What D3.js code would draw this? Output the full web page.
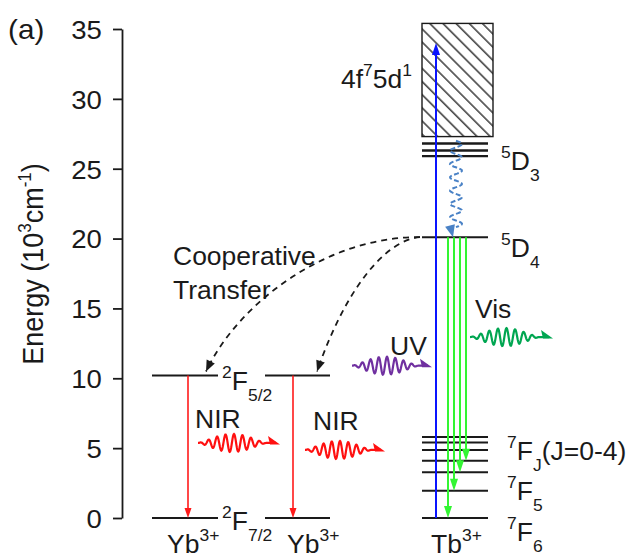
<!DOCTYPE html>
<html>
<head>
<meta charset="utf-8">
<script src="https://cdn.jsdelivr.net/npm/d3@7"></script>
<style>
  body { margin: 0; background: #fff; }
  text { font-family: "Liberation Sans", Arial, sans-serif; fill: #1a1a1a; }
</style>
</head>
<body>
<svg id="chart" width="631" height="558"></svg>
<script>
// energies are in 10^3 cm^-1
const yTicks = [0, 5, 10, 15, 20, 25, 30, 35];
const yMinor = [2.5, 7.5, 12.5, 17.5, 22.5, 27.5, 32.5];
const ybLevels = [10.2, 0];                 // 2F5/2, 2F7/2
const tbBand = [27.3, 35.4];                // 4f7 5d1
const tb5D3 = [26.8, 26.3, 25.9];
const tb5D4 = 20.1;
const tb7F = [5.8, 5.4, 4.86, 4.1, 3.27, 1.95, 0];
const uvTop = 34.0;                         // blue pump arrow
const visEnds = [0, 1.95, 3.27, 4.1];       // 5D4 -> 7F6..7F3
const relaxFrom = 27.0;                     // 5D3 -> 5D4 non-radiative
const photonNames = ["UV", "Vis", "NIR", "NIR"];
const photonE = [10.9, 12.95, 5.37, 4.87];

const width = 631, height = 558;
const svg = d3.select("#chart");
const y = d3.scaleLinear().domain([0, 35]).range([518, 29]);
const axisX = 122;
const stretch = 1.06;

// columns (pixel layout)
const col = {
  yb1: [152, 218], yb2: [265, 330], tb: [422, 488]
};
const photonX = [[352, 432], [470, 553], [198, 280], [305, 385]];
const photonColor = ["#7030a0", "#00a651", "#ff1010", "#ff1010"];

// text with sup/sub parts: [string, kind]
function label(x, yy, parts, size, anchor) {
  const t = svg.append("text")
      .attr("transform", `translate(${x},${yy}) scale(${stretch},1)`)
      .attr("font-size", size)
      .attr("text-anchor", anchor || "start");
  let shift = 0;
  parts.forEach(([s, k]) => {
    const target = k === "sup" ? -0.5 * size : k === "sub" ? 0.42 * size : 0;
    t.append("tspan")
      .attr("dy", target - shift)
      .attr("font-size", k === "n" ? size : size * 0.66)
      .text(s);
    shift = target;
  });
  return t;
}

function tri(tip, dir, len, half, color) {
  // dir: unit vector pointing toward tip
  const [tx, ty] = tip, [dx, dy] = dir;
  const bx = tx - dx * len, by = ty - dy * len;
  const px = -dy * half, py = dx * half;
  svg.append("path")
    .attr("d", `M${tx},${ty}L${bx + px},${by + py}L${bx - px},${by - py}Z`)
    .attr("fill", color);
}

// ---------- axis ----------
const gAxis = svg.append("g").attr("transform", `translate(${axisX},0)`);
gAxis.call(d3.axisLeft(y).tickValues(yMinor).tickSize(5).tickSizeOuter(0).tickFormat(""));
gAxis.call(d3.axisLeft(y).tickValues(yTicks).tickSize(9).tickSizeOuter(0).tickPadding(11));
gAxis.selectAll("path, line").attr("stroke", "#1a1a1a").attr("stroke-width", 1.8);
gAxis.selectAll("text")
  .attr("font-size", 26)
  .attr("font-family", "Liberation Sans, Arial, sans-serif")
  .attr("fill", "#1a1a1a")
  .attr("x", -19)
  .attr("dy", "0.36em")
  .attr("transform", `scale(${stretch},1)`);

svg.append("text")
  .attr("transform", `translate(43,264) scale(${stretch},1) rotate(-90)`)
  .attr("font-size", 27).attr("text-anchor", "middle")
  .call(t => {
    t.append("tspan").text("Energy (10");
    t.append("tspan").attr("dy", -11).attr("font-size", 17).text("3");
    t.append("tspan").attr("dy", 11).text("cm");
    t.append("tspan").attr("dy", -11).attr("font-size", 17).text("-1");
    t.append("tspan").attr("dy", 11).text(")");
  });

label(8, 39, [["(a)", "n"]], 28);

// ---------- hatched 4f7 5d1 band ----------
const defs = svg.append("defs");
defs.append("pattern")
  .attr("id", "hatch").attr("patternUnits", "userSpaceOnUse")
  .attr("width", 9.3).attr("height", 9.3)
  .attr("patternTransform", "rotate(45)")
  .append("line")
  .attr("x1", 0).attr("x2", 9.3).attr("y1", 1).attr("y2", 1)
  .attr("stroke", "#1a1a1a").attr("stroke-width", 1.3);

svg.append("rect")
  .attr("x", col.tb[0]).attr("width", 493 - col.tb[0])
  .attr("y", y(tbBand[1])).attr("height", y(tbBand[0]) - y(tbBand[1]))
  .attr("fill", "url(#hatch)").attr("stroke", "#1a1a1a").attr("stroke-width", 1.4);

// ---------- levels ----------
function level(xr, e, w) {
  svg.append("line")
    .attr("x1", xr[0]).attr("x2", xr[1])
    .attr("y1", y(e)).attr("y2", y(e))
    .attr("stroke", "#1a1a1a").attr("stroke-width", w || 2);
}
ybLevels.forEach(e => { level(col.yb1, e); level(col.yb2, e); });
tb5D3.forEach(e => level(col.tb, e, 2.4));
level(col.tb, tb5D4);
tb7F.forEach(e => level(col.tb, e));

// ---------- vertical arrows ----------
function arrow(x0, e0, e1, color, w, len, half) {
  const dir = e1 > e0 ? -1 : 1;
  svg.append("line")
    .attr("x1", x0).attr("x2", x0)
    .attr("y1", y(e0)).attr("y2", y(e1) - dir * len * 0.6)
    .attr("stroke", color).attr("stroke-width", w);
  tri([x0, y(e1)], [0, dir], len, half, color);
}
arrow(436, 0, uvTop, "#0a14ff", 2, 12, 4);
const visX = [448, 454, 460, 466];
visEnds.forEach((e, i) => arrow(visX[i], tb5D4, e, "#33f533", 2, 12, 4));
arrow(188, ybLevels[0], ybLevels[1], "#ff1a1a", 1.6, 10, 3.5);
arrow(293, ybLevels[0], ybLevels[1], "#ff1a1a", 1.6, 10, 3.5);

// non-radiative 5D3 -> 5D4 wavy dashed arrow
(function () {
  const cx = 456, y0 = y(relaxFrom), y1 = y(tb5D4) - 10;
  const pts = d3.range(0, 1.0001, 0.01).map(t => {
    const yy = y0 + t * (y1 - y0);
    return [cx + 6 * Math.sin(t * 2 * Math.PI * 6.5), yy];
  });
  svg.append("path")
    .attr("d", d3.line()(pts))
    .attr("fill", "none").attr("stroke", "#4a82c6")
    .attr("stroke-width", 2).attr("stroke-dasharray", "5,2.5");
  tri([cx - 3, y(tb5D4)], [0.25, 0.97], 12, 5, "#4a82c6");
})();

// ---------- photons ----------
photonE.forEach((e, i) => {
  const [x0, x1] = photonX[i], cy = y(e);
  const L = x1 - x0 - 10;
  const pts = d3.range(0, 1.0001, 0.005).map(t => {
    const env = Math.pow(Math.sin(Math.PI * Math.min(1, t * 1.05)), 1.3);
    return [x0 + t * L, cy - 9 * env * Math.sin(2 * Math.PI * 8.5 * t)];
  });
  pts.push([x1 - 4, cy]);
  svg.append("path")
    .attr("d", d3.line()(pts))
    .attr("fill", "none").attr("stroke", photonColor[i]).attr("stroke-width", 2.2);
  svg.append("path")
    .attr("d", `M${x1},${cy + 1.5}L${x1 - 12},${cy - 7}L${x1 - 10},${cy + 1.5}Z`)
    .attr("fill", photonColor[i]);
});
label(390, 355, [[photonNames[0], "n"]], 25);
label(475, 318, [[photonNames[1], "n"]], 25);
label(195, 428, [[photonNames[2], "n"]], 25);
label(313, 430, [[photonNames[3], "n"]], 25);

// ---------- cooperative transfer ----------
const start = [col.tb[0] - 2, y(tb5D4)];
[[206, 300, 330, 236, 240, 300], [317, 300, 385, 240, 345, 290]].forEach(c => {
  const end = [c[0], y(ybLevels[0]) - 4];
  const path = d3.path();
  path.moveTo(start[0], start[1]);
  path.bezierCurveTo(c[2], c[3], c[4], c[5], end[0], end[1]);
  svg.append("path").attr("d", path.toString())
    .attr("fill", "none").attr("stroke", "#1a1a1a")
    .attr("stroke-width", 1.8).attr("stroke-dasharray", "6,5");
  const dx = end[0] - c[4], dy = end[1] - c[5], n = Math.hypot(dx, dy);
  tri(end, [dx / n, dy / n], 11, 4.5, "#1a1a1a");
});
label(173, 265, [["Cooperative", "n"]], 25);
label(173, 299, [["Transfer", "n"]], 25);

// ---------- state labels ----------
label(341, 88, [["4f", "n"], ["7", "sup"], ["5d", "n"], ["1", "sup"]], 25);
label(501, 170, [["5", "sup"], ["D", "n"], ["3", "sub"]], 25);
label(501, 257, [["5", "sup"], ["D", "n"], ["4", "sub"]], 25);
label(507, 460, [["7", "sup"], ["F", "n"], ["J", "sub"], ["(J=0-4)", "n"]], 25);
label(507, 500, [["7", "sup"], ["F", "n"], ["5", "sub"]], 25);
label(507, 541, [["7", "sup"], ["F", "n"], ["6", "sub"]], 25);
label(222, 390, [["2", "sup"], ["F", "n"], ["5/2", "sub"]], 25);
label(222, 530, [["2", "sup"], ["F", "n"], ["7/2", "sub"]], 25);
label(167, 553, [["Yb", "n"], ["3+", "sup"]], 25);
label(287, 553, [["Yb", "n"], ["3+", "sup"]], 25);
label(431, 553, [["Tb", "n"], ["3+", "sup"]], 25);
</script>
</body>
</html>
